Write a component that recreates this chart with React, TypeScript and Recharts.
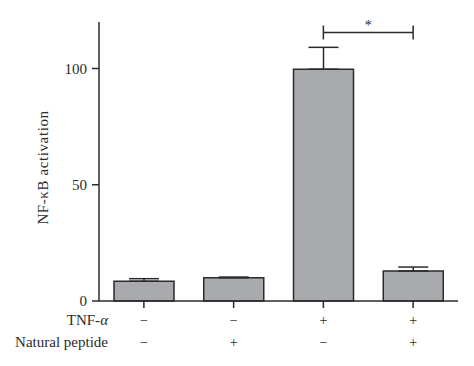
import React from 'react';
import { BarChart, Bar, XAxis, YAxis, ErrorBar, ReferenceLine } from 'recharts';

const categories = ['c1', 'c2', 'c3', 'c4'];
const tnfSigns = ['\u2212', '\u2212', '+', '+'];
const peptideSigns = ['\u2212', '+', '\u2212', '+'];
const values = [8.5, 10.0, 99.7, 12.9];
const errors = [1.1, 0.3, 9.4, 1.7];
const yTicks = [0, 50, 100];
const sigY = 115.5;
const sigTick = 3;

const data = categories.map((c, i) => ({
  cat: c,
  value: values[i],
  err: [0, errors[i]],
}));

const FONT = '"Liberation Serif", "Times New Roman", serif';
const INK = '#2b2b2b';

const XTick = (props: any) => {
  const { x, y, payload, index } = props;
  const i = categories.indexOf(payload.value);
  return (
    <g>
      <text x={x} y={y + 15} textAnchor="middle" fontFamily={FONT} fontSize={14} fill={INK}>
        {tnfSigns[i]}
      </text>
      <text x={x} y={y + 37} textAnchor="middle" fontFamily={FONT} fontSize={14} fill={INK}>
        {peptideSigns[i]}
      </text>
      {index === 0 && (
        <>
          <text x={108} y={y + 15} textAnchor="end" fontFamily={FONT} fontSize={15} fill={INK}>
            TNF-<tspan fontStyle="italic">α</tspan>
          </text>
          <text x={108} y={y + 37} textAnchor="end" fontFamily={FONT} fontSize={15} fill={INK}>
            Natural peptide
          </text>
        </>
      )}
    </g>
  );
};

export default function App() {
  return (
    <div style={{ position: 'absolute', left: 0, top: 0, background: '#fff' }}>
      <BarChart
        width={474}
        height={366}
        data={data}
        margin={{ top: 22, right: 16, left: 39, bottom: 35 }}
        barCategoryGap={15}
      >
        <XAxis
          dataKey="cat"
          height={30}
          tick={<XTick />}
          tickLine={{ stroke: INK, strokeWidth: 1.5 }}
          tickSize={7}
          axisLine={{ stroke: INK, strokeWidth: 1.5 }}
          interval={0}
        />
        <YAxis
          width={60}
          domain={[0, 120]}
          ticks={yTicks}
          tickSize={7}
          tickMargin={5}
          tickLine={{ stroke: INK, strokeWidth: 1.5 }}
          axisLine={{ stroke: INK, strokeWidth: 1.5 }}
          tick={{ fill: INK, fontFamily: FONT, fontSize: 15 }}
          label={{
            value: 'NF-κB activation',
            angle: -90,
            position: 'center',
            dx: -26,
            dy: 6,
            style: { fill: INK, fontFamily: FONT, fontSize: 15, letterSpacing: 0.6, textAnchor: 'middle' },
          }}
        />
        <Bar dataKey="value" fill="#a9aaae" stroke={INK} strokeWidth={1.5} isAnimationActive={false}>
          <ErrorBar dataKey="err" width={15} stroke={INK} strokeWidth={1.5} direction="y" />
        </Bar>
        <ReferenceLine
          segment={[{ x: 'c3', y: sigY }, { x: 'c4', y: sigY }]}
          stroke={INK}
          strokeWidth={1.5}
          label={{ value: '*', position: 'top', offset: 2, style: { fill: INK, fontFamily: FONT, fontSize: 14 } }}
        />
        <ReferenceLine
          segment={[{ x: 'c3', y: sigY - sigTick }, { x: 'c3', y: sigY + sigTick }]}
          stroke={INK}
          strokeWidth={1.5}
        />
        <ReferenceLine
          segment={[{ x: 'c4', y: sigY - sigTick }, { x: 'c4', y: sigY + sigTick }]}
          stroke={INK}
          strokeWidth={1.5}
        />
      </BarChart>
    </div>
  );
}
